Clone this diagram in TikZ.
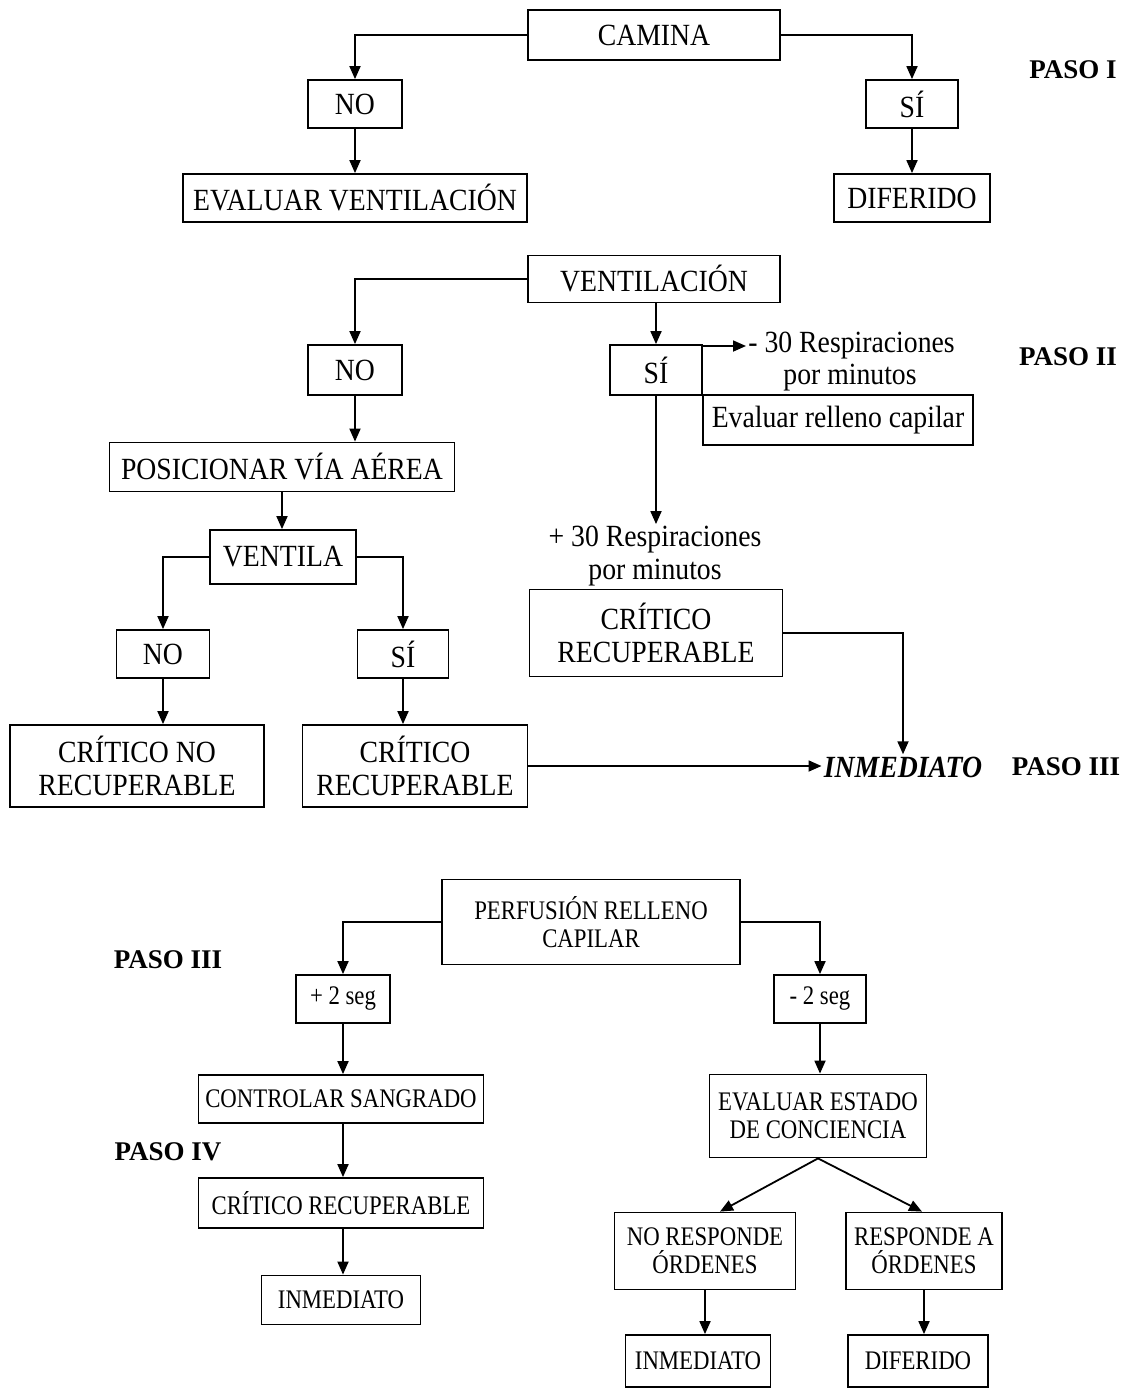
\documentclass[tikz,border=0pt]{standalone}
\usepackage{fontspec}
\setmainfont{Liberation Serif}
\newfontfamily\bigtxt[FakeStretch=0.9]{Liberation Serif}
\newfontfamily\smalltxt[FakeStretch=0.85]{Liberation Serif}
\usetikzlibrary{arrows.meta}

\begin{document}
\begin{tikzpicture}[x=0.5pt,y=-0.5pt,
  box/.style 2 args={draw, line width=0.9pt, inner sep=0pt, align=center,
    minimum width=#1*0.5pt, minimum height=#2*0.5pt},
  big/.style={font=\bigtxt\fontsize{15.4}{16.5}\selectfont},
  small/.style={font=\smalltxt\fontsize{13.4}{14}\selectfont},
  lbl/.style={inner sep=1pt, align=center},
  paso/.style={inner sep=1pt, font=\fontsize{13.5}{15}\selectfont\bfseries},
  arr/.style={draw, line width=0.9pt, -{Triangle[length=6.5pt,width=5.5pt]}},
]
\fill[white] (0,0) rectangle (1131,1388);
\useasboundingbox (0,0) rectangle (1131,1388);

% ---------- Paso I ----------
\node[box={252}{50}, big] (camina) at (654,35) {CAMINA};
\node[box={94}{48}, big] (no1) at (355,104) {NO};
\node[box={92}{48}, big] (si1) at (912,104) {SÍ};
\node[box={344}{48}, big] (evalvent) at (355,198) {EVALUAR VENTILACIÓN};
\node[box={156}{48}, big] (dif1) at (912,198) {DIFERIDO};
\node[paso] (paso1) at (1073,70) {PASO I};

\draw[arr] (camina.west) -| (no1.north);
\draw[arr] (camina.east) -| (si1.north);
\draw[arr] (no1.south) -- (evalvent.north);
\draw[arr] (si1.south) -- (dif1.north);

% ---------- Paso II ----------
\node[box={252}{47}, big] (vent) at (654,279) {VENTILACIÓN};
\node[box={94}{50}, big] (no2) at (355,370) {NO};
\node[box={92}{50}, big] (si2) at (656,370) {SÍ};
\node[lbl, big, anchor=west] (m30a) at (746,346) {- 30 Respiraciones};
\node[lbl, big] (m30b) at (850,378) {por minutos};
\node[box={270}{50}, big] (evalrell) at (838,420) {Evaluar relleno capilar};
\node[paso] (paso2) at (1068,357) {PASO II};

\draw[arr] (vent.west) -| (no2.north);
\draw[arr] (si2.north |- vent.south) -- (si2.north);
\draw[arr] (si2.east |- m30a.west) -- (m30a.west);

\node[lbl, big] (p30a) at (655,540) {+ 30 Respiraciones};
\node[lbl, big] (p30b) at (655,573) {por minutos};
\node[box={253}{87}, big] (critr2) at (656,633) {CRÍTICO\\RECUPERABLE};
\draw[arr] (si2.south) -- (si2.south |- p30a.north);

\node[box={345}{49}, big] (posic) at (282,467) {POSICIONAR VÍA AÉREA};
\node[box={146}{54}, big] (ventila) at (283,557) {VENTILA};
\node[box={93}{48}, big] (no3) at (163,654) {NO};
\node[box={91}{48}, big] (si3) at (403,654) {SÍ};
\node[box={254}{82}, big] (critnr) at (137,766) {CRÍTICO NO\\RECUPERABLE};
\node[box={225}{82}, big] (critr3) at (415,766) {CRÍTICO\\RECUPERABLE};

\draw[arr] (no2.south) -- (no2.south |- posic.north);
\draw[arr] (posic.south) -- (posic.south |- ventila.north);
\draw[arr] (ventila.west) -| (no3.north);
\draw[arr] (ventila.east) -| (si3.north);
\draw[arr] (no3.south) -- (no3.south |- critnr.north);
\draw[arr] (si3.south) -- (si3.south |- critr3.north);

\node[lbl, font=\bigtxt\fontsize{15.4}{16.5}\selectfont\bfseries\itshape] (inmed) at (903,767) {INMEDIATO};
\node[paso] (paso3a) at (1066,767) {PASO III};

\draw[arr] (critr3.east) -- (critr3.east -| inmed.west);
\draw[arr] (critr2.east) -| (inmed.north);

% ---------- Pasos III y IV ----------
\node[box={298}{85}, small] (perf) at (591,922) {PERFUSIÓN RELLENO\\CAPILAR};
\node[box={94}{48}, small] (mas2) at (343,999) {+ 2 seg};
\node[box={92}{48}, small] (menos2) at (820,999) {- 2 seg};
\node[paso] (paso3b) at (168,960) {PASO III};

\draw[arr] (perf.west) -| (mas2.north);
\draw[arr] (perf.east) -| (menos2.north);

\node[box={285}{48}, small] (control) at (341,1099) {CONTROLAR SANGRADO};
\node[paso] (paso4) at (168,1152) {PASO IV};
\node[box={285}{50}, small] (critr4) at (341,1203) {CRÍTICO RECUPERABLE};
\node[box={159}{49}, small] (inm4) at (341,1300) {INMEDIATO};

\draw[arr] (mas2.south) -- (mas2.south |- control.north);
\draw[arr] (mas2.south |- control.south) -- (mas2.south |- critr4.north);
\draw[arr] (mas2.south |- critr4.south) -- (mas2.south |- inm4.north);

\node[box={217}{83}, small] (evalest) at (818,1116) {EVALUAR ESTADO\\DE CONCIENCIA};
\node[box={181}{77}, small] (nores) at (705,1251) {NO RESPONDE\\ÓRDENES};
\node[box={156}{77}, small] (resp) at (924,1251) {RESPONDE A\\ÓRDENES};
\node[box={145}{52}, small] (inm5) at (698,1361) {INMEDIATO};
\node[box={140}{52}, small] (dif5) at (918,1361) {DIFERIDO};

\draw[arr] (menos2.south) -- (menos2.south |- evalest.north);
\draw[arr] (evalest.south) -- ([xshift=7.5pt]nores.north);
\draw[arr] (evalest.south) -- ([xshift=-1pt]resp.north);
\draw[arr] (nores.south) -- (nores.south |- inm5.north);
\draw[arr] (resp.south) -- (resp.south |- dif5.north);
\end{tikzpicture}
\end{document}
